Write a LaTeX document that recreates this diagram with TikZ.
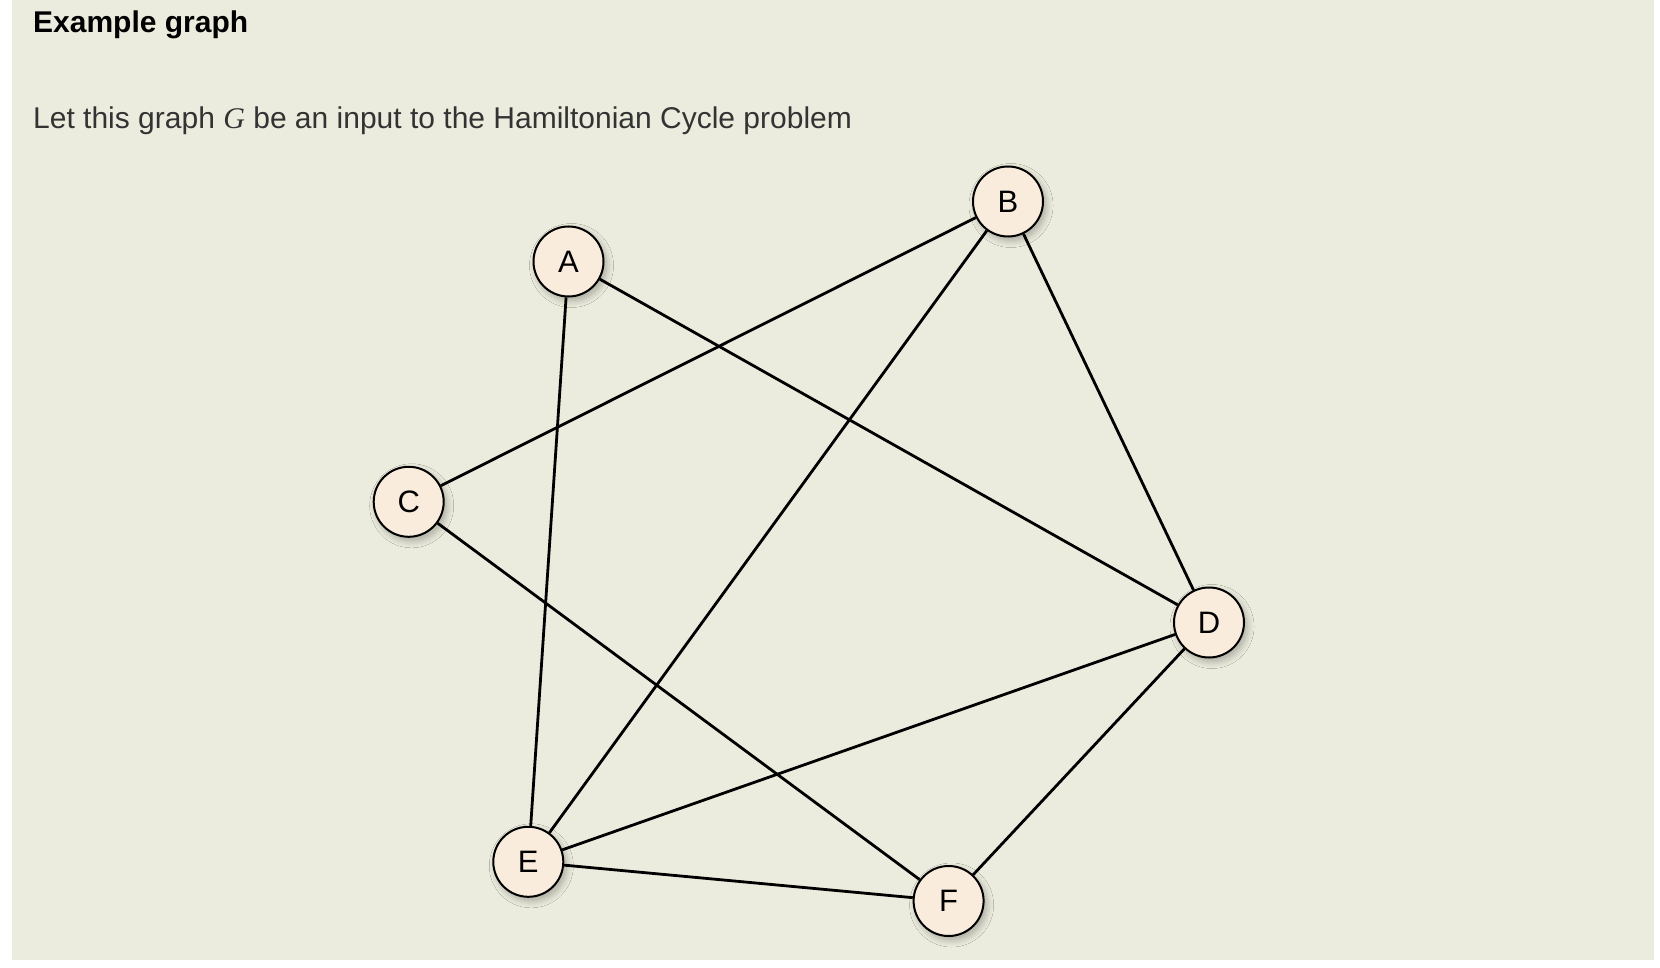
\documentclass[tikz,border=0pt]{standalone}
\usepackage{fontspec}
\setmainfont{Liberation Sans}
\newfontfamily\serifface{Liberation Serif}
\usetikzlibrary{shadows.blur}
\definecolor{panelbg}{RGB}{236,236,222}
\definecolor{nodefill}{RGB}{250,236,220}
\definecolor{textgray}{RGB}{51,51,51}
\begin{document}
\begin{tikzpicture}[x=1pt,y=-1pt,
  vertex/.style={circle, draw=black, line width=2pt, fill=nodefill, minimum size=70pt, inner sep=0pt,
    font=\fontsize{31}{36}\selectfont,
    blur shadow={shadow xshift=3pt, shadow yshift=-4pt, shadow blur steps=10, shadow opacity=30, shadow blur radius=7pt}},
  edge/.style={line width=2.8pt, black}]
\useasboundingbox (0,0) rectangle (1660,968);
\fill[white] (0,0) rectangle (1660,968);
\fill[panelbg] (12,0) rectangle (1654,960);
\node[anchor=base west, inner sep=0pt, font=\fontsize{30}{36}\selectfont\bfseries] (title) at (33,33) {Example graph};
\node[anchor=base west, inner sep=0pt, text=textgray, font=\fontsize{30}{36}\selectfont] (intro) at (33,129) {Let this graph {\serifface\itshape G} be an input to the Hamiltonian Cycle problem};
\node[vertex] (A) at (568.5,261.5) {A};
\node[vertex] (B) at (1008,201.5) {B};
\node[vertex] (C) at (408.7,501.8) {C};
\node[vertex] (D) at (1209,622.5) {D};
\node[vertex] (E) at (528.3,861.8) {E};
\node[vertex] (F) at (948.6,901) {F};
\draw[edge] (A) -- (E);
\draw[edge] (A) -- (D);
\draw[edge] (B) -- (C);
\draw[edge] (B) -- (E);
\draw[edge] (B) -- (D);
\draw[edge] (C) -- (F);
\draw[edge] (D) -- (E);
\draw[edge] (D) -- (F);
\draw[edge] (E) -- (F);
\end{tikzpicture}
\end{document}
